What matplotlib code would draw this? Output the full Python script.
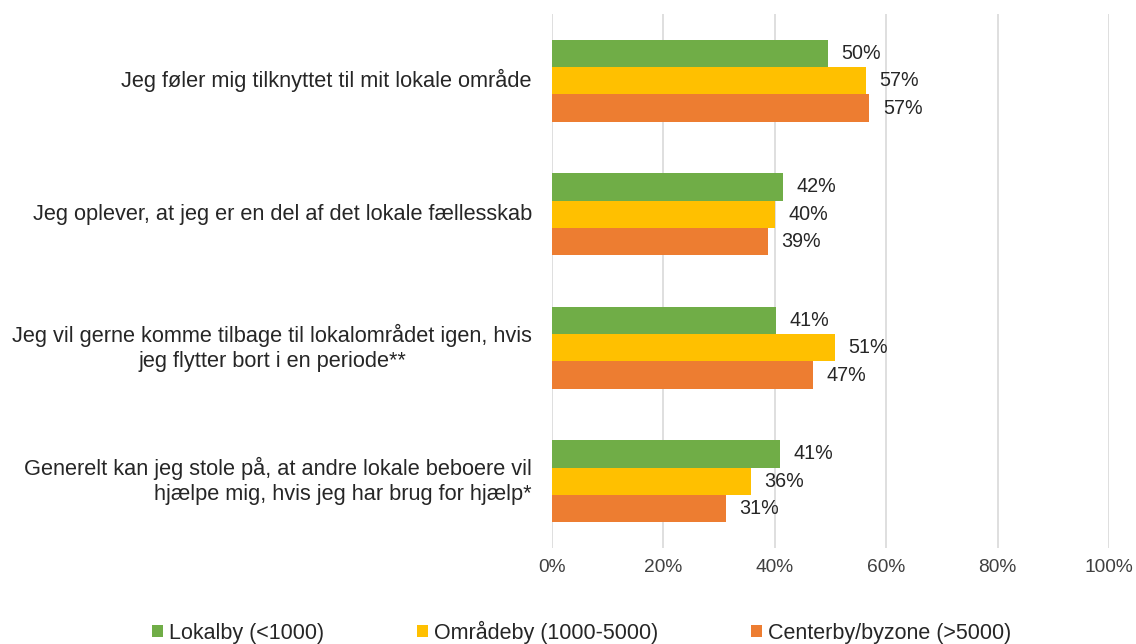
import matplotlib
matplotlib.use("Agg")
import matplotlib.pyplot as plt
from matplotlib.patches import Patch
import numpy as np

plt.rcParams['font.family'] = ['Liberation Sans', 'DejaVu Sans']

categories = [
    "Jeg føler mig tilknyttet til mit lokale område",
    "Jeg oplever, at jeg er en del af det lokale fællesskab",
    "Jeg vil gerne komme tilbage til lokalområdet igen, hvis\njeg flytter bort i en periode**",
    "Generelt kan jeg stole på, at andre lokale beboere vil\nhjælpe mig, hvis jeg har brug for hjælp*",
]
label_align = ["right", "right", "center", "right"]
series_names = ["Lokalby (<1000)", "Områdeby (1000-5000)", "Centerby/byzone (>5000)"]
lokalby = [49.5, 41.5, 40.2, 40.9]
omraadeby = [56.3, 40.1, 50.8, 35.7]
centerby = [57.0, 38.8, 46.9, 31.2]
labels = [
    ["50%", "42%", "41%", "41%"],
    ["57%", "40%", "51%", "36%"],
    ["57%", "39%", "47%", "31%"],
]
xticks = [0, 20, 40, 60, 80, 100]
xticklabels = ["0%", "20%", "40%", "60%", "80%", "100%"]

colors = ["#70AD47", "#FFC000", "#ED7D31"]
series = [lokalby, omraadeby, centerby]

fig = plt.figure(figsize=(11.36, 6.44), dpi=100)
ax = fig.add_axes([552/1136, 1-548/644, (1109-552)/1136, (548-14)/644])

n = len(categories)
y = np.arange(n)
h = 0.205
for i, (vals, col) in enumerate(zip(series, colors)):
    pos = y + (i - 1) * h
    ax.barh(pos, vals, height=h, color=col, zorder=3)
    for p, v, lab in zip(pos, vals, labels[i]):
        ax.text(v + 2.4, p, lab, va='center', ha='left', fontsize=14.2, color='#262626')

ax.set_ylim(n - 0.5, -0.5)
ax.set_xlim(0, 100)
ax.set_yticks(y)
ax.set_yticklabels(categories, fontsize=15.7, color='#262626', ha='right', va='center', linespacing=1.25)
for t, al in zip(ax.get_yticklabels(), label_align):
    t.set_multialignment(al)
ax.set_xticks(xticks)
ax.set_xticklabels(xticklabels, fontsize=13.8, color='#404040')
ax.tick_params(axis='y', length=0, pad=14.5)
ax.tick_params(axis='x', length=0, pad=8)
ax.grid(axis='x', color='#D9D9D9', linewidth=1.2, zorder=0)
for s in ax.spines.values():
    s.set_visible(False)

handles = [Patch(facecolor=c, edgecolor='none') for c in colors]
fig.legend(handles, series_names, loc='center', bbox_to_anchor=(0.512, 1-632/644), ncol=3,
           frameon=False, fontsize=15.5, handlelength=0.5, handleheight=0.5,
           handletextpad=0.3, columnspacing=4.3, labelcolor='#262626')

fig.savefig("out.png", dpi=100)
